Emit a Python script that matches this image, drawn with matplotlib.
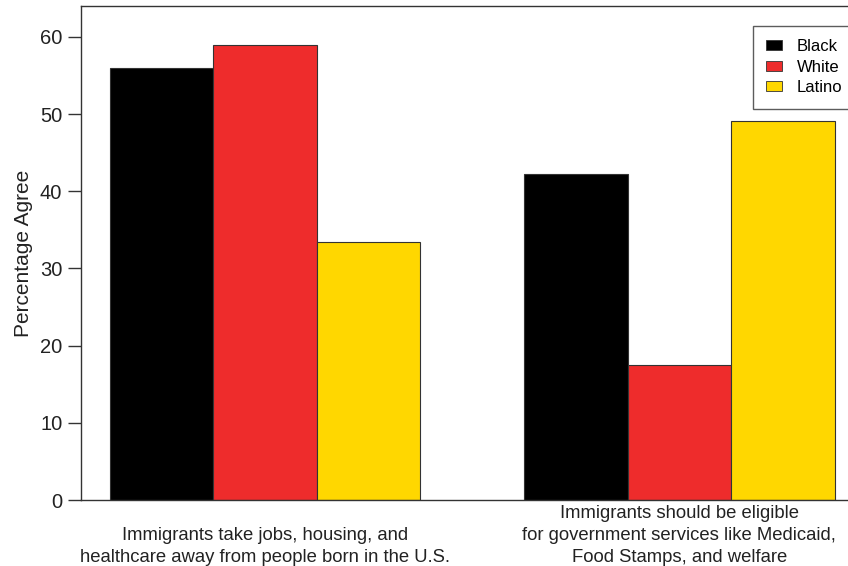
import matplotlib
matplotlib.use("Agg")
import matplotlib.pyplot as plt
from matplotlib.patches import Patch
import matplotlib.transforms as mtransforms

plt.rcParams['font.family'] = ['Liberation Sans', 'DejaVu Sans']

categories = [["Immigrants take jobs, housing, and",
               "healthcare away from people born in the U.S."],
              ["Immigrants should be eligible",
               "for government services like Medicaid,",
               "Food Stamps, and welfare"]]
groups = ["Black", "White", "Latino"]
black = [56.0, 42.2]
white = [59.0, 17.5]
latino = [33.4, 49.1]
colors = ["#000000", "#EE2C2C", "#FFD700"]
yticks = [0, 10, 20, 30, 40, 50, 60]

fig = plt.figure(figsize=(8.48, 5.66), dpi=100)
W, H = 848, 566
ax = fig.add_axes([81 / W, 66 / H, (863.5 - 81) / W, (500 - 6) / H])

series = [black, white, latino]
for gi in range(len(categories)):
    start = 1 + gi * 4
    for si, vals in enumerate(series):
        ax.bar(start + si, vals[gi], width=1.0, align='edge',
               color=colors[si], edgecolor='#333333', linewidth=0.8)

ax.set_xlim(0.72, 8.28)
ax.set_ylim(0, 64)
ax.set_yticks(yticks)
ax.set_yticklabels([str(t) for t in yticks], fontsize=14.5, color='#222222')
ax.tick_params(axis='y', length=9.5, width=1, color='#333333', pad=4)
ax.set_xticks([])
for s in ax.spines.values():
    s.set_linewidth(1)
    s.set_color('#333333')
ax.set_ylabel("Percentage Agree", fontsize=15, color='#222222')
ax.yaxis.set_label_coords((33 - 81) / 782.5, 0.5)

trans = mtransforms.blended_transform_factory(ax.transData, fig.transFigure)
centers = [2.5, 6.5]
baselines_px = [562, 540, 518]  # from top, last line first
for c, lines in zip(centers, categories):
    n = len(lines)
    for k, line in enumerate(lines):
        ypx = baselines_px[n - 1 - k]
        ax.text(c, 1 - ypx / H, line, transform=trans, ha='center', va='baseline',
                fontsize=13.3, color='#222222', clip_on=False)

handles = [Patch(facecolor=colors[i], edgecolor='#333333', linewidth=0.6, label=groups[i]) for i in range(3)]
leg = fig.legend(handles=handles, loc='upper left', bbox_to_anchor=(753 / W, 1 - 25.5 / H),
                 frameon=True, fancybox=False, edgecolor='#333333', fontsize=12,
                 handlelength=0.96, handleheight=0.55, handletextpad=0.85,
                 borderpad=0.8, labelspacing=0.34, borderaxespad=0)
leg.get_frame().set_linewidth(1)

fig.savefig("out.png", dpi=100)
